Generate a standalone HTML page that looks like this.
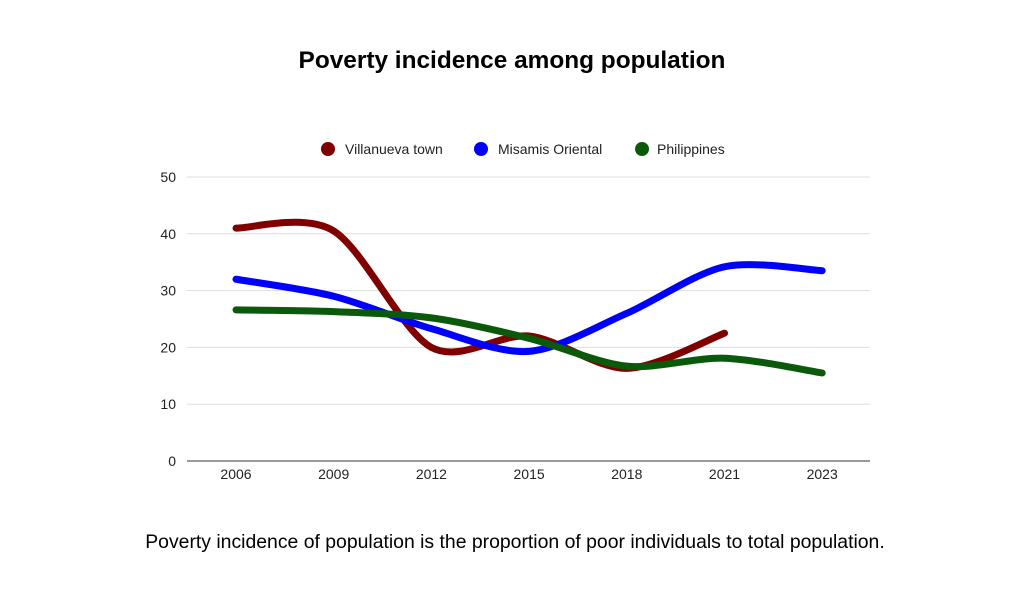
<!DOCTYPE html>
<html><head><meta charset="utf-8"><style>
body{margin:0;background:#fff;width:1024px;height:585px;overflow:hidden;font-family:"Liberation Sans",Arial,sans-serif}
</style></head><body>
<svg width="1024" height="585" id="c">
<text x="512" y="68" text-anchor="middle" font-size="24.4" font-weight="bold">Poverty incidence among population</text>
<g>
<circle cx="328" cy="149" r="7" fill="#800000"/>
<text x="345" y="154" font-size="14" fill="#222">Villanueva town</text>
<circle cx="481" cy="149" r="7" fill="#0000ff"/>
<text x="498" y="154" font-size="14" fill="#222">Misamis Oriental</text>
<circle cx="642" cy="149" r="7" fill="#0b5a0b"/>
<text x="657" y="154" font-size="14" fill="#222">Philippines</text>
</g>
<g id="grid"></g>
<g id="lines"></g>
<text x="515" y="548" text-anchor="middle" font-size="19.4">Poverty incidence of population is the proportion of poor individuals to total population.</text>
</svg>
<script>
const categories=["2006","2009","2012","2015","2018","2021","2023"];
const yTicks=[0,10,20,30,40,50];
const villanueva=[41,40.5,20,22,16.3,22.5,null];
const misamis=[32,29,23.3,19.3,26,34.2,33.5];
const philippines=[26.6,26.3,25.2,21.6,16.7,18.1,15.5];
const NS="http://www.w3.org/2000/svg";
const x0=187,x1=870,y0=461,y1=177;
function xs(i){return 236+i*97.7;}
function ys(v){return y0-(v/50)*(y0-y1);}
const grid=document.getElementById('grid');
yTicks.forEach(t=>{
 const l=document.createElementNS(NS,'line');
 l.setAttribute('x1',x0);l.setAttribute('x2',x1);l.setAttribute('y1',ys(t));l.setAttribute('y2',ys(t));
 l.setAttribute('stroke',t===0?'#333':'#ddd');l.setAttribute('stroke-width','1');
 
 
 grid.appendChild(l);
 const tx=document.createElementNS(NS,'text');
 tx.setAttribute('x',176);tx.setAttribute('y',ys(t)+5);tx.setAttribute('text-anchor','end');tx.setAttribute('font-size','14');tx.setAttribute('fill','#222');
 tx.textContent=t;
 
 
 grid.appendChild(tx);
});
categories.forEach((c,i)=>{
 const tx=document.createElementNS(NS,'text');
 tx.setAttribute('x',xs(i));tx.setAttribute('y',479);tx.setAttribute('text-anchor','middle');tx.setAttribute('font-size','14');tx.setAttribute('fill','#222');
 tx.textContent=c;
 
 
 grid.appendChild(tx);
});
function pathFor(vals){
 const p=[];vals.forEach((v,i)=>{if(v!=null)p.push([xs(i),ys(v)]);});
 let d='M'+p[0][0]+','+p[0][1];
 const k=0.15;
 for(let i=0;i<p.length-1;i++){
  const a=p[i-1]||p[i],b=p[i],c=p[i+1],e=p[i+2]||c;
  const c1=[b[0]+(c[0]-a[0])*k,b[1]+(c[1]-a[1])*k];
  const c2=[c[0]-(e[0]-b[0])*k,c[1]-(e[1]-b[1])*k];
  d+=' C'+c1+' '+c2+' '+c;
 }
 return d;
}
const lines=document.getElementById('lines');
[[villanueva,'#800000','line-villanueva'],[misamis,'#0000ff','line-misamis'],[philippines,'#0b5a0b','line-philippines']].forEach(s=>{
 const p=document.createElementNS(NS,'path');
 p.setAttribute('d',pathFor(s[0]));p.setAttribute('fill','none');p.setAttribute('stroke',s[1]);
 p.setAttribute('stroke-width','7');p.setAttribute('stroke-linecap','round');p.setAttribute('stroke-linejoin','round');
 
 
 lines.appendChild(p);
});
</script>
</body></html>
